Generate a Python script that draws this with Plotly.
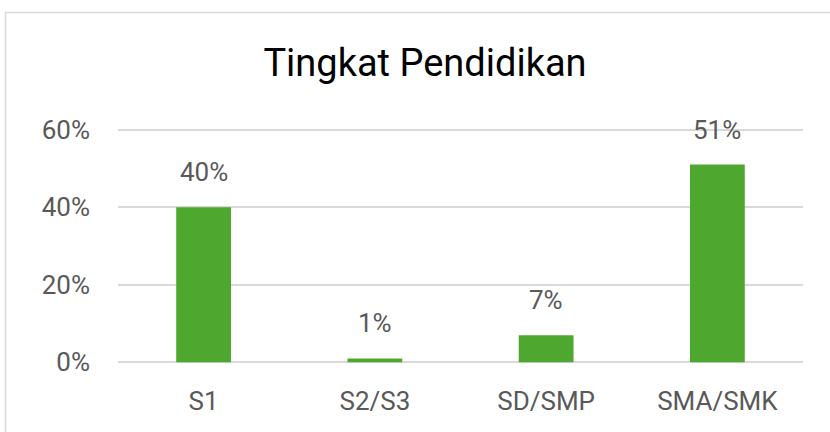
import plotly.graph_objects as go

categories = ["S1", "S2/S3", "SD/SMP", "SMA/SMK"]
values = [0.40, 0.01, 0.07, 0.51]
label_texts = ["40%", "1%", "7%", "51%"]
tick_vals = [0, 0.2, 0.4, 0.6]
tick_text = ["0%", "20%", "40%", "60%"]

BAR_COLOR = "#4EA72E"
TEXT_COLOR = "#595959"
GRID_COLOR = "#D9D9D9"
FONT = "Roboto"

W, H = 830, 432
# plot area: x 118..803, y(0%)=362, y(60%)=130 ; range padded so edge gridlines draw
PAD = 0.012
px_per_unit = (362 - 130) / 0.6
ML, MR = 118, W - 803
MT = round(130 - PAD * px_per_unit)
MB = round(H - (362 + PAD * px_per_unit))

fig = go.Figure()
fig.add_trace(go.Bar(
    x=categories, y=values,
    marker=dict(color=BAR_COLOR, line=dict(width=0)),
    width=0.32,
    hoverinfo="skip",
))

for c, v, t in zip(categories, values, label_texts):
    fig.add_annotation(x=c, y=v, xref="x", yref="y", text=t, showarrow=False,
                       yanchor="middle", yshift=35,
                       font=dict(family=FONT, size=26, color=TEXT_COLOR))

# chart-area border (extends beyond the visible window on right/bottom)
pw, ph = W - ML - MR, H - MT - MB
fig.add_shape(type="rect", xref="paper", yref="paper",
              x0=(5.5 - ML) / pw, x1=(W + 20 - ML) / pw,
              y0=-(MB + 20) / ph, y1=1 + (MT - 12.5) / ph,
              line=dict(color="#D9D9D9", width=1.5), layer="below")

fig.update_layout(
    width=W, height=H,
    margin=dict(l=ML, r=MR, t=MT, b=MB),
    paper_bgcolor="white", plot_bgcolor="white",
    showlegend=False,
    title=dict(text="Tingkat Pendidikan", x=425 / W, xanchor="center",
               y=1 - 63 / H, yanchor="middle", xref="container", yref="container",
               font=dict(family=FONT, size=38, color="#000000")),
    xaxis=dict(showgrid=False, showline=False, ticks="", zeroline=False,
               tickfont=dict(family=FONT, size=26, color=TEXT_COLOR),
               ticklabelstandoff=21 - 5),
    yaxis=dict(range=[-PAD, 0.6 + PAD], tickvals=tick_vals, ticktext=tick_text,
               showgrid=True, gridcolor=GRID_COLOR, gridwidth=1.5,
               zeroline=False, showline=False, ticks="",
               tickfont=dict(family=FONT, size=26, color=TEXT_COLOR),
               ticklabelstandoff=27),
    bargap=0.68,
)

fig.write_html("out.html", config={"displayModeBar": False},
               post_script="document.body.style.margin='0';document.body.style.overflow='hidden';")
